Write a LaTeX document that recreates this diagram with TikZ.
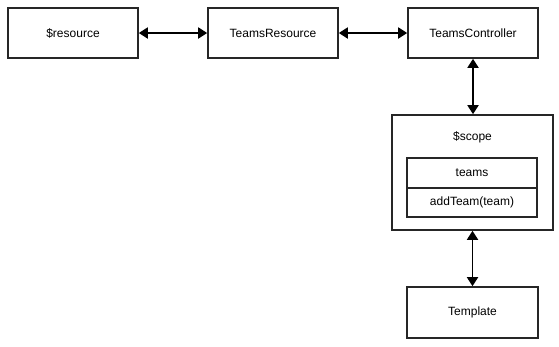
\documentclass[tikz,border=0pt]{standalone}
\usepackage{fontspec}
\setmainfont{Liberation Sans}
\usetikzlibrary{arrows.meta}
\begin{document}
\begin{tikzpicture}[x=1pt,y=-1pt,
  font=\fontsize{12}{14}\selectfont,
  box/.style={draw=black!85, line width=1.6pt, fill=white, inner sep=0pt},
  link/.style={line width=1.8pt, {Triangle[length=9pt,width=11pt]}-{Triangle[length=9pt,width=11pt]}}]
  \useasboundingbox (0,0) rectangle (559,346);
  % top row
  \node[box, minimum width=130, minimum height=50] (res) at (73,33) {\$resource};
  \node[box, minimum width=130, minimum height=50] (tres) at (273,33) {TeamsResource};
  \node[box, minimum width=130, minimum height=50] (tctl) at (473,33) {TeamsController};
  % scope container with its two members
  \node[box, minimum width=161, minimum height=115] (scope) at (472.5,172.5) {};
  \node (scopelbl) at (472.5,137) {\$scope};
  \node[box, minimum width=130, minimum height=30] (teams) at (472,173) {teams};
  \node[box, minimum width=130, minimum height=29] (add) at (472,202.5) {addTeam(team)};
  % template
  \node[box, minimum width=131, minimum height=51] (tpl) at (472.5,312.5) {Template};
  % connectors
  \draw[link] (res.east) -- (tres.west);
  \draw[link] (tres.east) -- (tctl.west);
  \draw[link] (tctl.south) -- (tctl.south |- scope.north);
  \draw[link] (scope.south) -- (scope.south |- tpl.north);
\end{tikzpicture}
\end{document}
